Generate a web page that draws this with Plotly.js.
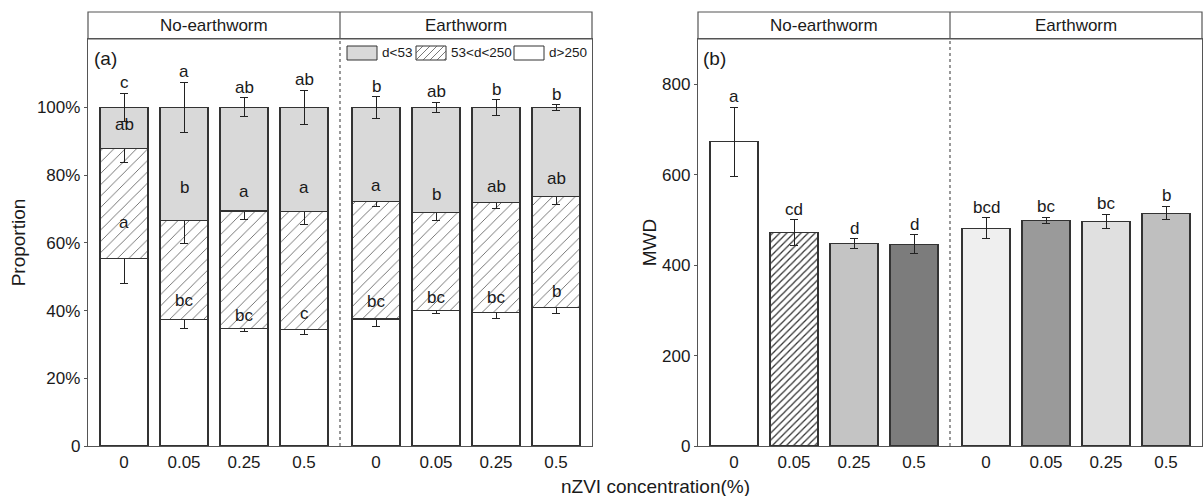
<!DOCTYPE html>
<html>
<head>
<meta charset="utf-8">
<script src="https://cdn.plot.ly/plotly-3.0.1.min.js"></script>
<style>html,body{margin:0;padding:0;background:#fff}#chart{width:1203px;height:496px}</style>
</head>
<body>
<div id="chart"></div>
<script>
// ---------- data ----------
const concLabels = ['0', '0.05', '0.25', '0.5'];
const groupNames = ['No-earthworm', 'Earthworm'];
const seriesNames = ['d<53', '53<d<250', 'd>250'];

// panel (a): proportions (%) per treatment (4 no-earthworm, then 4 earthworm)
const coarse = [55.4, 37.4, 34.6, 34.4, 37.5, 39.9, 39.3, 40.9];      // d>250
const middle = [32.4, 29.1, 34.8, 34.8, 34.8, 29.1, 32.5, 32.8];      // 53<d<250
const fine   = [12.2, 33.5, 30.6, 30.8, 27.7, 31.0, 28.2, 26.3];      // d<53
const coarseErr = [7.5, 2.6, 0.8, 1.6, 2.1, 0.9, 1.5, 1.7];
const middleErr = [4.0, 6.8, 2.6, 3.9, 1.5, 2.3, 1.7, 2.3];
const fineErr   = [4.2, 7.5, 2.8, 5.0, 3.2, 1.5, 2.3, 0.8];
const coarseLetters = ['a', 'bc', 'bc', 'c', 'bc', 'bc', 'bc', 'b'];
const middleLetters = ['ab', 'b', 'a', 'a', 'a', 'b', 'ab', 'ab'];
const fineLetters   = ['c', 'a', 'ab', 'ab', 'b', 'ab', 'b', 'b'];

// panel (b): mean weight diameter
const mwd = [672.6, 472, 447.8, 446, 481.6, 499.3, 497, 514.8];
const mwdErr = [76, 28, 10, 21, 23, 7, 16, 15];
const mwdLetters = ['a', 'cd', 'd', 'd', 'bcd', 'bc', 'bc', 'b'];

// ---------- styling / layout helpers ----------
const W = 1203, H = 496;
const px = x => x / W;
const py = y => 1 - y / H;
const FONT = 'Arial, "Liberation Sans", sans-serif';
const TXT = '#1a1a1a';
const AX = '#555';
const OUT = '#333';

const nTreat = coarse.length;
const pos = coarse.map((_, i) => 0.6 + i + (i >= concLabels.length ? 0.2 : 0));
const tickText = pos.map((_, i) => concLabels[i % concLabels.length]);
const dividerX = 4.2, xRange = [0, 8.4];
const groupCenter = g => (pos[g * 4] + pos[g * 4 + 3]) / 2;

const mwdColors = ['#ffffff', '#ffffff', '#c4c4c4', '#7c7c7c', '#efefef', '#9a9a9a', '#e0e0e0', '#bfbfbf'];
const mwdPattern = ['', '/', '', '', '', '', '', ''];

const errStyle = {type: 'data', visible: true, color: '#222', thickness: 1, width: 4};

const traces = [
  {type: 'bar', x: pos, y: coarse, name: seriesNames[2], xaxis: 'x', yaxis: 'y', width: 0.8,
   marker: {color: '#ffffff', line: {color: OUT, width: 1.1}},
   error_y: Object.assign({array: coarseErr}, errStyle), showlegend: false, hoverinfo: 'y'},
  {type: 'bar', x: pos, y: middle, name: seriesNames[1], xaxis: 'x', yaxis: 'y', width: 0.8,
   marker: {color: '#ffffff', line: {color: OUT, width: 1.1},
            pattern: {shape: '/', size: 8, solidity: 0.1, fgcolor: '#555', bgcolor: '#ffffff', fillmode: 'replace'}},
   error_y: Object.assign({array: middleErr}, errStyle), showlegend: false, hoverinfo: 'y'},
  {type: 'bar', x: pos, y: fine, name: seriesNames[0], xaxis: 'x', yaxis: 'y', width: 0.8,
   marker: {color: '#d9d9d9', line: {color: OUT, width: 1.1}},
   error_y: Object.assign({array: fineErr}, errStyle), showlegend: false, hoverinfo: 'y'}
];
// panel (b): one trace per bar so each can carry its own fill / hatch
for (let i = 0; i < nTreat; i++) {
  const m = {color: mwdColors[i], line: {color: OUT, width: 1.1}};
  if (mwdPattern[i]) m.pattern = {shape: mwdPattern[i], size: 5, solidity: 0.25, fgcolor: '#333', bgcolor: '#ffffff', fillmode: 'replace'};
  traces.push({type: 'bar', x: [pos[i]], y: [mwd[i]], name: 'MWD ' + tickText[i], xaxis: 'x2', yaxis: 'y2', width: 0.8,
    marker: m, error_y: Object.assign({array: [mwdErr[i]]}, errStyle), showlegend: false, hoverinfo: 'y'});
}

// ---------- annotations ----------
const annotations = [];
const letterFont = {family: FONT, size: 17, color: TXT};
for (let i = 0; i < nTreat; i++) {
  const t1 = coarse[i], t2 = coarse[i] + middle[i], t3 = coarse[i] + middle[i] + fine[i];
  [[t1 + coarseErr[i], coarseLetters[i]], [t2 + middleErr[i], middleLetters[i]], [t3 + fineErr[i], fineLetters[i]]]
    .forEach(([yv, txt]) => annotations.push({xref: 'x', yref: 'y', x: pos[i], y: yv, text: txt,
      showarrow: false, yanchor: 'bottom', yshift: -1, font: letterFont}));
  annotations.push({xref: 'x2', yref: 'y2', x: pos[i], y: mwd[i] + mwdErr[i], text: mwdLetters[i],
    showarrow: false, yanchor: 'bottom', yshift: -1, font: letterFont});
}
const stripFont = {family: FONT, size: 17, color: TXT};
[['x', 0], ['x', 1], ['x2', 0], ['x2', 1]].forEach(([xr, g]) => {
  annotations.push({xref: xr, yref: 'paper', x: groupCenter(g), y: py(25.5), text: groupNames[g],
    showarrow: false, yanchor: 'middle', font: stripFont});
});
annotations.push({xref: 'paper', yref: 'paper', x: px(92), y: py(59), text: '(a)', showarrow: false,
  xanchor: 'left', yanchor: 'middle', font: {family: FONT, size: 19, color: TXT}});
annotations.push({xref: 'paper', yref: 'paper', x: px(701), y: py(58), text: '(b)', showarrow: false,
  xanchor: 'left', yanchor: 'middle', font: {family: FONT, size: 19, color: TXT}});
annotations.push({xref: 'paper', yref: 'paper', x: px(655), y: py(486), text: 'nZVI concentration(%)', showarrow: false,
  xanchor: 'center', yanchor: 'middle', font: {family: FONT, size: 19, color: TXT}});

// ---------- shapes ----------
const shapes = [];
[[88, 592, 'x'], [698, 1202, 'x2']].forEach(([l, r, xr]) => {
  shapes.push({type: 'rect', xref: 'paper', yref: 'paper', x0: px(l), x1: px(r), y0: py(39), y1: py(12),
    line: {color: AX, width: 1.2}, fillcolor: 'rgba(0,0,0,0)'});
  shapes.push({type: 'line', xref: xr, yref: 'paper', x0: dividerX, x1: dividerX, y0: py(39), y1: py(12),
    line: {color: AX, width: 1.2}});
  shapes.push({type: 'line', xref: xr, yref: 'paper', x0: dividerX, x1: dividerX, y0: py(446), y1: py(39),
    line: {color: AX, width: 1.2, dash: 'dot'}});
});

// legend for panel (a), drawn as swatches
const legendItems = [
  {x: 347, fill: '#d9d9d9', hatch: false, label: seriesNames[0]},
  {x: 416, fill: '#ffffff', hatch: true, label: seriesNames[1]},
  {x: 514, fill: '#ffffff', hatch: false, label: seriesNames[2]}
];
const sw = 30, sh = 14, sy0 = 46;
legendItems.forEach(it => {
  shapes.push({type: 'rect', xref: 'paper', yref: 'paper', x0: px(it.x), x1: px(it.x + sw), y0: py(sy0 + sh), y1: py(sy0),
    line: {color: OUT, width: 1}, fillcolor: it.fill});
  if (it.hatch) {
    let d = '';
    for (let k = -sh; k < sw; k += 7) {
      const tmin = Math.max(0, -k / sh), tmax = Math.min(1, (sw - k) / sh);
      if (tmax <= tmin) continue;
      const xa = it.x + k + sh * tmin, ya = sy0 + sh - sh * tmin;
      const xb = it.x + k + sh * tmax, yb = sy0 + sh - sh * tmax;
      d += `M${px(xa)},${py(ya)}L${px(xb)},${py(yb)}`;
    }
    shapes.push({type: 'path', xref: 'paper', yref: 'paper', path: d, line: {color: '#555', width: 0.8}});
  }
  annotations.push({xref: 'paper', yref: 'paper', x: px(it.x + sw + 3), y: py(sy0 + sh / 2), text: it.label,
    showarrow: false, xanchor: 'left', yanchor: 'middle', font: {family: FONT, size: 13.5, color: TXT}});
});

// ---------- axes ----------
const xCommon = {range: xRange, tickvals: pos, ticktext: tickText, showline: true, linecolor: AX, linewidth: 1.2,
  mirror: true, ticks: '', showgrid: false, zeroline: false, tickfont: {family: FONT, size: 17, color: TXT}, fixedrange: true};
const yCommon = {showline: true, linecolor: AX, linewidth: 1.2, mirror: true, ticks: 'outside', ticklen: 3,
  tickcolor: AX, showgrid: false, zeroline: false, tickfont: {family: FONT, size: 17, color: TXT}, fixedrange: true};

const layout = {
  width: W, height: H, margin: {l: 0, r: 0, t: 0, b: 0},
  paper_bgcolor: '#fff', plot_bgcolor: '#fff',
  barmode: 'stack', showlegend: false,
  font: {family: FONT, color: TXT},
  xaxis: Object.assign({domain: [px(88), px(592)], anchor: 'y'}, xCommon),
  xaxis2: Object.assign({domain: [px(698), px(1202)], anchor: 'y2'}, xCommon),
  yaxis: Object.assign({domain: [py(446), py(39)], anchor: 'x', range: [0, 120.2],
    tickvals: [0, 20, 40, 60, 80, 100], ticktext: ['0', '20%', '40%', '60%', '80%', '100%'],
    title: {text: 'Proportion', font: {family: FONT, size: 19, color: TXT}, standoff: 6}}, yCommon),
  yaxis2: Object.assign({domain: [py(446), py(39)], anchor: 'x2', range: [0, 900],
    tickvals: [0, 200, 400, 600, 800],
    title: {text: 'MWD', font: {family: FONT, size: 19, color: TXT}, standoff: 0}}, yCommon),
  shapes: shapes,
  annotations: annotations
};

Plotly.newPlot('chart', traces, layout, {displayModeBar: false, staticPlot: true});
</script>
</body>
</html>
